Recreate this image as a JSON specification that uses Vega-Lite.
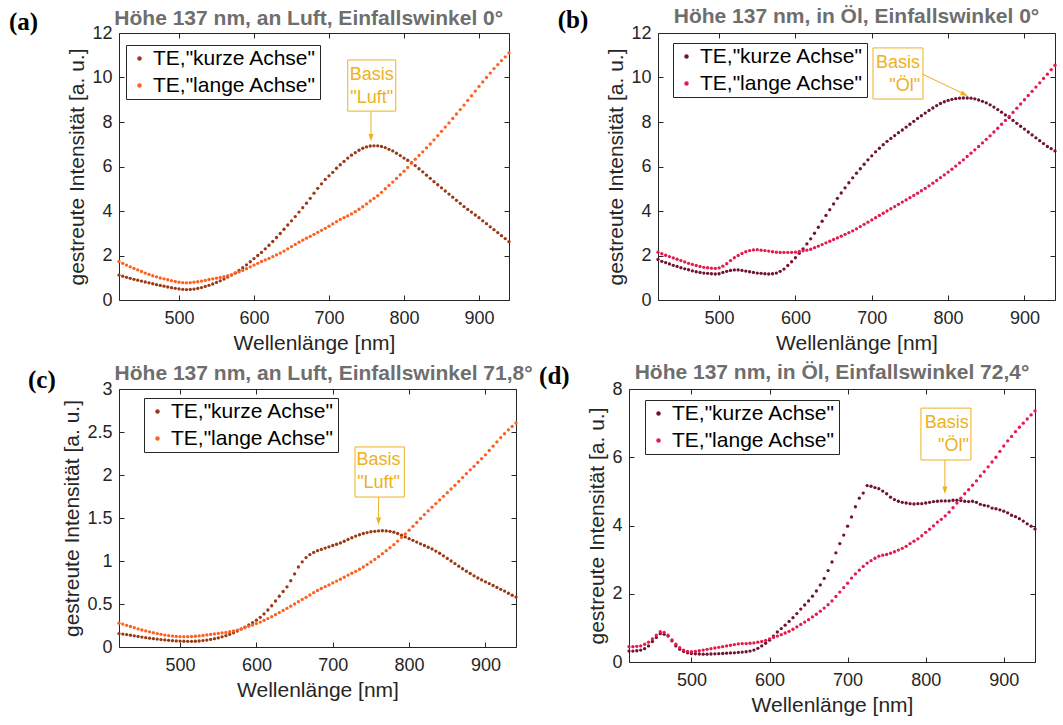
{
"$schema": "https://vega.github.io/schema/vega-lite/v6.json",
"background": "white",
"padding": {"left": 8, "top": 5, "right": 5, "bottom": 5},
"config": {
  "font": "Liberation Sans",
  "view": {"stroke": "#262626", "strokeWidth": 1},
  "axis": {"labelFontSize": 18, "labelColor": "#262626", "titleFontSize": 21, "titleFontWeight": "normal", "titleColor": "#262626", "tickColor": "#262626", "tickSize": -5, "domain": false, "grid": false},
  "axisBottom": {"labelPadding": 14, "titlePadding": 5},
  "axisLeft": {"labelPadding": 12, "titlePadding": 4},
  "legend": {"orient": "none", "strokeColor": "#262626", "fillColor": "white", "padding": 3, "labelFontSize": 21, "labelColor": "#000000", "symbolType": "circle", "symbolSize": 20, "symbolOffset": 0, "rowPadding": 5, "labelOffset": 3, "labelLimit": 400}
},
"datasets": {
"a": [
{"x":420,"k":1.12,"l":1.73},{"x":425,"k":1.07,"l":1.65},{"x":430,"k":1.02,"l":1.57},{"x":435,"k":0.975,"l":1.49},{"x":440,"k":0.93,"l":1.42},{"x":445,"k":0.89,"l":1.35},{"x":450,"k":0.85,"l":1.28},{"x":455,"k":0.81,"l":1.21},{"x":460,"k":0.77,"l":1.15},{"x":465,"k":0.73,"l":1.09},{"x":470,"k":0.69,"l":1.04},{"x":475,"k":0.655,"l":0.99},{"x":480,"k":0.62,"l":0.95},{"x":485,"k":0.585,"l":0.91},{"x":490,"k":0.55,"l":0.87},{"x":495,"k":0.525,"l":0.83},{"x":500,"k":0.5,"l":0.8},{"x":505,"k":0.48,"l":0.78},{"x":510,"k":0.47,"l":0.77},{"x":515,"k":0.475,"l":0.78},{"x":520,"k":0.49,"l":0.8},{"x":525,"k":0.52,"l":0.82},{"x":530,"k":0.56,"l":0.85},{"x":535,"k":0.61,"l":0.88},{"x":540,"k":0.66,"l":0.92},{"x":545,"k":0.72,"l":0.95},{"x":550,"k":0.79,"l":0.98},{"x":555,"k":0.86,"l":1.01},{"x":560,"k":0.94,"l":1.05},{"x":565,"k":1.03,"l":1.09},{"x":570,"k":1.12,"l":1.14},{"x":575,"k":1.22,"l":1.2},{"x":580,"k":1.33,"l":1.26},{"x":585,"k":1.45,"l":1.33},{"x":590,"k":1.58,"l":1.41},{"x":595,"k":1.72,"l":1.49},{"x":600,"k":1.86,"l":1.57},{"x":605,"k":2.0,"l":1.65},{"x":610,"k":2.14,"l":1.73},{"x":615,"k":2.3,"l":1.8},{"x":620,"k":2.46,"l":1.87},{"x":625,"k":2.63,"l":1.95},{"x":630,"k":2.81,"l":2.03},{"x":635,"k":2.99,"l":2.11},{"x":640,"k":3.18,"l":2.2},{"x":645,"k":3.37,"l":2.3},{"x":650,"k":3.56,"l":2.4},{"x":655,"k":3.75,"l":2.5},{"x":660,"k":3.95,"l":2.6},{"x":665,"k":4.15,"l":2.69},{"x":670,"k":4.35,"l":2.78},{"x":675,"k":4.57,"l":2.86},{"x":680,"k":4.8,"l":2.95},{"x":685,"k":5.02,"l":3.04},{"x":690,"k":5.22,"l":3.13},{"x":695,"k":5.42,"l":3.22},{"x":700,"k":5.58,"l":3.32},{"x":705,"k":5.74,"l":3.42},{"x":710,"k":5.92,"l":3.52},{"x":715,"k":6.08,"l":3.62},{"x":720,"k":6.23,"l":3.7},{"x":725,"k":6.38,"l":3.78},{"x":730,"k":6.51,"l":3.87},{"x":735,"k":6.62,"l":3.97},{"x":740,"k":6.73,"l":4.08},{"x":745,"k":6.82,"l":4.19},{"x":750,"k":6.88,"l":4.32},{"x":755,"k":6.92,"l":4.45},{"x":760,"k":6.93,"l":4.57},{"x":765,"k":6.93,"l":4.69},{"x":770,"k":6.9,"l":4.84},{"x":775,"k":6.85,"l":5.0},{"x":780,"k":6.77,"l":5.15},{"x":785,"k":6.7,"l":5.3},{"x":790,"k":6.6,"l":5.46},{"x":795,"k":6.49,"l":5.63},{"x":800,"k":6.38,"l":5.79},{"x":805,"k":6.28,"l":5.96},{"x":810,"k":6.17,"l":6.15},{"x":815,"k":6.04,"l":6.33},{"x":820,"k":5.9,"l":6.5},{"x":825,"k":5.76,"l":6.66},{"x":830,"k":5.61,"l":6.84},{"x":835,"k":5.47,"l":7.01},{"x":840,"k":5.32,"l":7.2},{"x":845,"k":5.18,"l":7.39},{"x":850,"k":5.04,"l":7.58},{"x":855,"k":4.9,"l":7.77},{"x":860,"k":4.76,"l":7.96},{"x":865,"k":4.62,"l":8.16},{"x":870,"k":4.48,"l":8.36},{"x":875,"k":4.34,"l":8.56},{"x":880,"k":4.2,"l":8.76},{"x":885,"k":4.07,"l":8.97},{"x":890,"k":3.95,"l":9.18},{"x":895,"k":3.82,"l":9.39},{"x":900,"k":3.7,"l":9.6},{"x":905,"k":3.56,"l":9.8},{"x":910,"k":3.43,"l":10.0},{"x":915,"k":3.29,"l":10.2},{"x":920,"k":3.16,"l":10.4},{"x":925,"k":3.03,"l":10.58},{"x":930,"k":2.89,"l":10.76},{"x":935,"k":2.76,"l":10.93},{"x":940,"k":2.62,"l":11.1}
],
"b": [
{"x":420,"k":1.82,"l":2.15},{"x":425,"k":1.74,"l":2.08},{"x":430,"k":1.68,"l":2.01},{"x":435,"k":1.62,"l":1.95},{"x":440,"k":1.56,"l":1.89},{"x":445,"k":1.51,"l":1.83},{"x":450,"k":1.45,"l":1.77},{"x":455,"k":1.4,"l":1.71},{"x":460,"k":1.36,"l":1.65},{"x":465,"k":1.31,"l":1.6},{"x":470,"k":1.27,"l":1.55},{"x":475,"k":1.24,"l":1.51},{"x":480,"k":1.21,"l":1.47},{"x":485,"k":1.2,"l":1.45},{"x":490,"k":1.18,"l":1.43},{"x":495,"k":1.17,"l":1.42},{"x":500,"k":1.18,"l":1.44},{"x":505,"k":1.24,"l":1.52},{"x":510,"k":1.29,"l":1.63},{"x":515,"k":1.33,"l":1.77},{"x":520,"k":1.35,"l":1.9},{"x":525,"k":1.35,"l":2.0},{"x":530,"k":1.33,"l":2.09},{"x":535,"k":1.3,"l":2.17},{"x":540,"k":1.27,"l":2.22},{"x":545,"k":1.24,"l":2.25},{"x":550,"k":1.21,"l":2.26},{"x":555,"k":1.2,"l":2.24},{"x":560,"k":1.18,"l":2.22},{"x":565,"k":1.17,"l":2.2},{"x":570,"k":1.18,"l":2.17},{"x":575,"k":1.21,"l":2.15},{"x":580,"k":1.29,"l":2.14},{"x":585,"k":1.39,"l":2.14},{"x":590,"k":1.55,"l":2.14},{"x":595,"k":1.72,"l":2.14},{"x":600,"k":1.9,"l":2.15},{"x":605,"k":2.1,"l":2.18},{"x":610,"k":2.3,"l":2.21},{"x":615,"k":2.52,"l":2.24},{"x":620,"k":2.75,"l":2.28},{"x":625,"k":3.0,"l":2.35},{"x":630,"k":3.27,"l":2.42},{"x":635,"k":3.54,"l":2.49},{"x":640,"k":3.8,"l":2.57},{"x":645,"k":4.06,"l":2.64},{"x":650,"k":4.32,"l":2.72},{"x":655,"k":4.57,"l":2.79},{"x":660,"k":4.81,"l":2.87},{"x":665,"k":5.04,"l":2.95},{"x":670,"k":5.27,"l":3.03},{"x":675,"k":5.49,"l":3.11},{"x":680,"k":5.7,"l":3.2},{"x":685,"k":5.9,"l":3.3},{"x":690,"k":6.1,"l":3.4},{"x":695,"k":6.3,"l":3.5},{"x":700,"k":6.48,"l":3.6},{"x":705,"k":6.66,"l":3.7},{"x":710,"k":6.82,"l":3.8},{"x":715,"k":6.98,"l":3.9},{"x":720,"k":7.13,"l":4.0},{"x":725,"k":7.26,"l":4.1},{"x":730,"k":7.39,"l":4.2},{"x":735,"k":7.52,"l":4.3},{"x":740,"k":7.64,"l":4.4},{"x":745,"k":7.77,"l":4.5},{"x":750,"k":7.9,"l":4.6},{"x":755,"k":8.03,"l":4.7},{"x":760,"k":8.16,"l":4.8},{"x":765,"k":8.28,"l":4.91},{"x":770,"k":8.4,"l":5.02},{"x":775,"k":8.52,"l":5.13},{"x":780,"k":8.63,"l":5.25},{"x":785,"k":8.74,"l":5.37},{"x":790,"k":8.83,"l":5.5},{"x":795,"k":8.91,"l":5.62},{"x":800,"k":8.97,"l":5.75},{"x":805,"k":9.02,"l":5.88},{"x":810,"k":9.05,"l":6.02},{"x":815,"k":9.07,"l":6.16},{"x":820,"k":9.08,"l":6.3},{"x":825,"k":9.08,"l":6.45},{"x":830,"k":9.07,"l":6.6},{"x":835,"k":9.04,"l":6.75},{"x":840,"k":8.99,"l":6.9},{"x":845,"k":8.93,"l":7.06},{"x":850,"k":8.86,"l":7.22},{"x":855,"k":8.77,"l":7.38},{"x":860,"k":8.67,"l":7.55},{"x":865,"k":8.56,"l":7.72},{"x":870,"k":8.44,"l":7.9},{"x":875,"k":8.32,"l":8.07},{"x":880,"k":8.2,"l":8.25},{"x":885,"k":8.07,"l":8.43},{"x":890,"k":7.94,"l":8.62},{"x":895,"k":7.81,"l":8.81},{"x":900,"k":7.68,"l":9.0},{"x":905,"k":7.55,"l":9.19},{"x":910,"k":7.42,"l":9.38},{"x":915,"k":7.29,"l":9.57},{"x":920,"k":7.16,"l":9.76},{"x":925,"k":7.03,"l":9.96},{"x":930,"k":6.9,"l":10.15},{"x":935,"k":6.8,"l":10.35},{"x":940,"k":6.7,"l":10.55}
],
"c": [
{"x":420,"k":0.156,"l":0.277},{"x":425,"k":0.15,"l":0.266},{"x":430,"k":0.144,"l":0.252},{"x":435,"k":0.137,"l":0.238},{"x":440,"k":0.13,"l":0.225},{"x":445,"k":0.122,"l":0.21},{"x":450,"k":0.115,"l":0.198},{"x":455,"k":0.109,"l":0.187},{"x":460,"k":0.103,"l":0.176},{"x":465,"k":0.097,"l":0.166},{"x":470,"k":0.092,"l":0.156},{"x":475,"k":0.086,"l":0.147},{"x":480,"k":0.082,"l":0.139},{"x":485,"k":0.078,"l":0.133},{"x":490,"k":0.074,"l":0.127},{"x":495,"k":0.071,"l":0.123},{"x":500,"k":0.069,"l":0.121},{"x":505,"k":0.067,"l":0.12},{"x":510,"k":0.066,"l":0.12},{"x":515,"k":0.066,"l":0.122},{"x":520,"k":0.067,"l":0.125},{"x":525,"k":0.07,"l":0.129},{"x":530,"k":0.075,"l":0.134},{"x":535,"k":0.081,"l":0.14},{"x":540,"k":0.088,"l":0.146},{"x":545,"k":0.097,"l":0.152},{"x":550,"k":0.106,"l":0.158},{"x":555,"k":0.118,"l":0.164},{"x":560,"k":0.132,"l":0.17},{"x":565,"k":0.148,"l":0.177},{"x":570,"k":0.166,"l":0.186},{"x":575,"k":0.186,"l":0.197},{"x":580,"k":0.208,"l":0.21},{"x":585,"k":0.232,"l":0.224},{"x":590,"k":0.257,"l":0.24},{"x":595,"k":0.284,"l":0.256},{"x":600,"k":0.312,"l":0.272},{"x":605,"k":0.345,"l":0.29},{"x":610,"k":0.385,"l":0.309},{"x":615,"k":0.43,"l":0.33},{"x":620,"k":0.48,"l":0.352},{"x":625,"k":0.535,"l":0.376},{"x":630,"k":0.59,"l":0.4},{"x":635,"k":0.645,"l":0.425},{"x":640,"k":0.7,"l":0.45},{"x":645,"k":0.77,"l":0.475},{"x":650,"k":0.85,"l":0.5},{"x":655,"k":0.93,"l":0.527},{"x":660,"k":0.99,"l":0.553},{"x":665,"k":1.04,"l":0.578},{"x":670,"k":1.075,"l":0.605},{"x":675,"k":1.1,"l":0.632},{"x":680,"k":1.12,"l":0.657},{"x":685,"k":1.135,"l":0.68},{"x":690,"k":1.15,"l":0.701},{"x":695,"k":1.165,"l":0.722},{"x":700,"k":1.18,"l":0.745},{"x":705,"k":1.195,"l":0.766},{"x":710,"k":1.21,"l":0.788},{"x":715,"k":1.23,"l":0.812},{"x":720,"k":1.25,"l":0.836},{"x":725,"k":1.27,"l":0.858},{"x":730,"k":1.29,"l":0.88},{"x":735,"k":1.305,"l":0.904},{"x":740,"k":1.32,"l":0.93},{"x":745,"k":1.33,"l":0.958},{"x":750,"k":1.34,"l":0.988},{"x":755,"k":1.345,"l":1.018},{"x":760,"k":1.35,"l":1.05},{"x":765,"k":1.352,"l":1.085},{"x":770,"k":1.35,"l":1.12},{"x":775,"k":1.345,"l":1.155},{"x":780,"k":1.335,"l":1.19},{"x":785,"k":1.32,"l":1.232},{"x":790,"k":1.3,"l":1.274},{"x":795,"k":1.28,"l":1.316},{"x":800,"k":1.26,"l":1.358},{"x":805,"k":1.24,"l":1.403},{"x":810,"k":1.22,"l":1.448},{"x":815,"k":1.2,"l":1.494},{"x":820,"k":1.18,"l":1.54},{"x":825,"k":1.16,"l":1.583},{"x":830,"k":1.14,"l":1.626},{"x":835,"k":1.115,"l":1.668},{"x":840,"k":1.09,"l":1.71},{"x":845,"k":1.06,"l":1.752},{"x":850,"k":1.03,"l":1.795},{"x":855,"k":1.0,"l":1.838},{"x":860,"k":0.97,"l":1.88},{"x":865,"k":0.94,"l":1.925},{"x":870,"k":0.91,"l":1.97},{"x":875,"k":0.882,"l":2.015},{"x":880,"k":0.855,"l":2.06},{"x":885,"k":0.828,"l":2.1},{"x":890,"k":0.802,"l":2.145},{"x":895,"k":0.78,"l":2.19},{"x":900,"k":0.758,"l":2.235},{"x":905,"k":0.737,"l":2.285},{"x":910,"k":0.715,"l":2.335},{"x":915,"k":0.693,"l":2.385},{"x":920,"k":0.671,"l":2.435},{"x":925,"k":0.65,"l":2.48},{"x":930,"k":0.625,"l":2.525},{"x":935,"k":0.602,"l":2.565},{"x":940,"k":0.58,"l":2.605}
],
"d": [
{"x":420,"k":0.32,"l":0.45},{"x":425,"k":0.32,"l":0.45},{"x":430,"k":0.33,"l":0.46},{"x":435,"k":0.35,"l":0.47},{"x":440,"k":0.39,"l":0.52},{"x":445,"k":0.47,"l":0.58},{"x":450,"k":0.6,"l":0.68},{"x":455,"k":0.72,"l":0.79},{"x":460,"k":0.83,"l":0.89},{"x":465,"k":0.81,"l":0.87},{"x":470,"k":0.76,"l":0.79},{"x":475,"k":0.62,"l":0.65},{"x":480,"k":0.47,"l":0.52},{"x":485,"k":0.37,"l":0.42},{"x":490,"k":0.31,"l":0.35},{"x":495,"k":0.27,"l":0.31},{"x":500,"k":0.25,"l":0.3},{"x":505,"k":0.24,"l":0.31},{"x":510,"k":0.235,"l":0.33},{"x":515,"k":0.23,"l":0.35},{"x":520,"k":0.23,"l":0.37},{"x":525,"k":0.235,"l":0.39},{"x":530,"k":0.24,"l":0.41},{"x":535,"k":0.245,"l":0.43},{"x":540,"k":0.25,"l":0.45},{"x":545,"k":0.26,"l":0.47},{"x":550,"k":0.265,"l":0.49},{"x":555,"k":0.27,"l":0.51},{"x":560,"k":0.28,"l":0.53},{"x":565,"k":0.29,"l":0.54},{"x":570,"k":0.3,"l":0.54},{"x":575,"k":0.32,"l":0.55},{"x":580,"k":0.35,"l":0.56},{"x":585,"k":0.4,"l":0.58},{"x":590,"k":0.47,"l":0.6},{"x":595,"k":0.55,"l":0.63},{"x":600,"k":0.64,"l":0.68},{"x":605,"k":0.76,"l":0.72},{"x":610,"k":0.88,"l":0.76},{"x":615,"k":0.98,"l":0.8},{"x":620,"k":1.08,"l":0.85},{"x":625,"k":1.19,"l":0.9},{"x":630,"k":1.3,"l":0.96},{"x":635,"k":1.42,"l":1.03},{"x":640,"k":1.55,"l":1.1},{"x":645,"k":1.67,"l":1.17},{"x":650,"k":1.79,"l":1.24},{"x":655,"k":1.93,"l":1.32},{"x":660,"k":2.08,"l":1.4},{"x":665,"k":2.26,"l":1.49},{"x":670,"k":2.45,"l":1.58},{"x":675,"k":2.68,"l":1.68},{"x":680,"k":2.93,"l":1.79},{"x":685,"k":3.2,"l":1.92},{"x":690,"k":3.47,"l":2.05},{"x":695,"k":3.72,"l":2.18},{"x":700,"k":3.98,"l":2.31},{"x":705,"k":4.25,"l":2.46},{"x":710,"k":4.55,"l":2.58},{"x":715,"k":4.8,"l":2.69},{"x":720,"k":4.95,"l":2.8},{"x":725,"k":5.17,"l":2.9},{"x":730,"k":5.15,"l":2.97},{"x":735,"k":5.11,"l":3.04},{"x":740,"k":5.08,"l":3.1},{"x":745,"k":5.01,"l":3.13},{"x":750,"k":4.93,"l":3.15},{"x":755,"k":4.83,"l":3.19},{"x":760,"k":4.76,"l":3.23},{"x":765,"k":4.71,"l":3.28},{"x":770,"k":4.68,"l":3.33},{"x":775,"k":4.66,"l":3.39},{"x":780,"k":4.64,"l":3.47},{"x":785,"k":4.63,"l":3.54},{"x":790,"k":4.64,"l":3.61},{"x":795,"k":4.64,"l":3.7},{"x":800,"k":4.66,"l":3.8},{"x":805,"k":4.68,"l":3.89},{"x":810,"k":4.7,"l":3.99},{"x":815,"k":4.71,"l":4.1},{"x":820,"k":4.72,"l":4.18},{"x":825,"k":4.72,"l":4.28},{"x":830,"k":4.72,"l":4.39},{"x":835,"k":4.74,"l":4.52},{"x":840,"k":4.74,"l":4.66},{"x":845,"k":4.73,"l":4.8},{"x":850,"k":4.71,"l":4.93},{"x":855,"k":4.7,"l":5.05},{"x":860,"k":4.71,"l":5.18},{"x":865,"k":4.68,"l":5.31},{"x":870,"k":4.62,"l":5.45},{"x":875,"k":4.59,"l":5.58},{"x":880,"k":4.57,"l":5.72},{"x":885,"k":4.51,"l":5.86},{"x":890,"k":4.49,"l":6.0},{"x":895,"k":4.46,"l":6.17},{"x":900,"k":4.42,"l":6.33},{"x":905,"k":4.37,"l":6.48},{"x":910,"k":4.3,"l":6.61},{"x":915,"k":4.26,"l":6.75},{"x":920,"k":4.2,"l":6.88},{"x":925,"k":4.13,"l":7.0},{"x":930,"k":4.05,"l":7.12},{"x":935,"k":3.98,"l":7.24},{"x":940,"k":3.9,"l":7.36}
]
},
"spacing": 7,
"resolve": {"scale": {"color": "independent"}, "legend": {"color": "independent"}},
"vconcat": [
{"hconcat": [
 {"width": 390, "height": 267,
  "resolve": {"axis": {"x": "independent", "y": "independent"}},
  "layer": [
   {"data": {"name": "a"}, "transform": [{"fold": ["k", "l"], "as": ["s", "v"]}],
    "mark": {"type": "circle", "size": 11, "opacity": 1},
    "encoding": {
     "x": {"field": "x", "type": "quantitative", "scale": {"domain": [420, 940], "nice": false}, "axis": {"values": [500, 600, 700, 800, 900], "title": "Wellenlänge [nm]"}},
     "y": {"field": "v", "type": "quantitative", "scale": {"domain": [0, 12], "nice": false}, "axis": {"values": [0, 2, 4, 6, 8, 10, 12], "format": "~g", "title": "gestreute Intensität [a. u.]"}},
     "color": {"field": "s", "type": "nominal", "scale": {"domain": ["k", "l"], "range": ["#9a3a14", "#ff5f1f"]}, "legend": {"title": null, "legendX": 7, "legendY": 12, "labelExpr": "datum.label == 'k' ? 'TE,\"kurze Achse\"' : 'TE,\"lange Achse\"'"}}
    }},
   {"data": {"values": [{}]}, "mark": {"type": "rect", "filled": false, "color": "#EDB120", "strokeWidth": 1},
    "encoding": {
     "x": {"datum": 725, "type": "quantitative", "axis": {"orient": "top", "values": [500, 600, 700, 800, 900], "labels": false, "title": null}},
     "x2": {"datum": 789},
     "y": {"datum": 10.79, "type": "quantitative", "axis": {"orient": "right", "values": [0, 2, 4, 6, 8, 10, 12], "labels": false, "title": null}},
     "y2": {"datum": 8.49}}},
   {"data": {"values": [{}]}, "mark": {"type": "text", "text": ["Basis", "\"Luft\""], "color": "#EDB120", "fontSize": 18, "lineHeight": 23, "align": "center", "baseline": "middle"},
    "encoding": {"x": {"datum": 757, "type": "quantitative", "axis": null}, "y": {"datum": 10.11, "type": "quantitative", "axis": null}}},
   {"data": {"values": [{}]}, "mark": {"type": "rule", "color": "#EDB120", "strokeWidth": 1},
    "encoding": {"x": {"datum": 756, "type": "quantitative", "axis": null}, "y": {"datum": 8.49, "type": "quantitative", "axis": null}, "y2": {"datum": 7.3}}},
   {"data": {"values": [{}]}, "mark": {"type": "point", "shape": "M-1,-3L1,-3L0,0Z", "filled": true, "opacity": 1, "color": "#EDB120", "size": 25},
    "encoding": {"x": {"datum": 756, "type": "quantitative", "axis": null}, "y": {"datum": 7.12, "type": "quantitative", "axis": null}}},
   {"data": {"values": [{}]}, "mark": {"type": "text", "text": "Höhe 137 nm, an Luft, Einfallswinkel 0°", "fontWeight": "bold", "fontSize": 21, "color": "#6e6e6e", "align": "center", "baseline": "alphabetic"},
    "encoding": {"x": {"datum": 673, "type": "quantitative", "axis": null}, "y": {"datum": 12.36, "type": "quantitative", "axis": null}}},
   {"data": {"values": [{}]}, "mark": {"type": "text", "text": "(a)", "font": "Liberation Serif", "fontWeight": "bold", "fontSize": 25, "align": "left", "baseline": "middle", "color": "#000000"},
    "encoding": {"x": {"datum": 273.3, "type": "quantitative", "axis": null}, "y": {"datum": 12.51, "type": "quantitative", "axis": null}}}
  ]},
 {"width": 397, "height": 267,
  "resolve": {"axis": {"x": "independent", "y": "independent"}},
  "layer": [
   {"data": {"name": "b"}, "transform": [{"fold": ["k", "l"], "as": ["s", "v"]}],
    "mark": {"type": "circle", "size": 11, "opacity": 1},
    "encoding": {
     "x": {"field": "x", "type": "quantitative", "scale": {"domain": [420, 940], "nice": false}, "axis": {"values": [500, 600, 700, 800, 900], "title": "Wellenlänge [nm]"}},
     "y": {"field": "v", "type": "quantitative", "scale": {"domain": [0, 12], "nice": false}, "axis": {"values": [0, 2, 4, 6, 8, 10, 12], "format": "~g", "title": "gestreute Intensität [a. u.]"}},
     "color": {"field": "s", "type": "nominal", "scale": {"domain": ["k", "l"], "range": ["#701234", "#e6194b"]}, "legend": {"title": null, "legendX": 15, "legendY": 10, "labelExpr": "datum.label == 'k' ? 'TE,\"kurze Achse\"' : 'TE,\"lange Achse\"'"}}
    }},
   {"data": {"values": [{}]}, "mark": {"type": "rect", "filled": false, "color": "#EDB120", "strokeWidth": 1},
    "encoding": {
     "x": {"datum": 701.6, "type": "quantitative", "axis": {"orient": "top", "values": [500, 600, 700, 800, 900], "labels": false, "title": null}},
     "x2": {"datum": 767.1},
     "y": {"datum": 11.33, "type": "quantitative", "axis": {"orient": "right", "values": [0, 2, 4, 6, 8, 10, 12], "labels": false, "title": null}},
     "y2": {"datum": 9.03}}},
   {"data": {"values": [{}]}, "mark": {"type": "text", "text": ["Basis", "\"Öl\""], "color": "#EDB120", "fontSize": 18, "lineHeight": 23, "align": "right", "baseline": "middle"},
    "encoding": {"x": {"datum": 763.2, "type": "quantitative", "axis": null}, "y": {"datum": 10.66, "type": "quantitative", "axis": null}}},
   {"data": {"values": [{}]}, "mark": {"type": "rule", "color": "#EDB120", "strokeWidth": 1},
    "encoding": {"x": {"datum": 765.8, "type": "quantitative", "axis": null}, "x2": {"datum": 822}, "y": {"datum": 10.16, "type": "quantitative", "axis": null}, "y2": {"datum": 9.24}}},
   {"data": {"values": [{}]}, "mark": {"type": "point", "shape": "M-1,-3L1,-3L0,0Z", "filled": true, "opacity": 1, "color": "#EDB120", "size": 25, "angle": -64.4},
    "encoding": {"x": {"datum": 826, "type": "quantitative", "axis": null}, "y": {"datum": 9.17, "type": "quantitative", "axis": null}}},
   {"data": {"values": [{}]}, "mark": {"type": "text", "text": "Höhe 137 nm, in Öl, Einfallswinkel 0°", "fontWeight": "bold", "fontSize": 21, "color": "#6e6e6e", "align": "center", "baseline": "alphabetic"},
    "encoding": {"x": {"datum": 680, "type": "quantitative", "axis": null}, "y": {"datum": 12.46, "type": "quantitative", "axis": null}}},
   {"data": {"values": [{}]}, "mark": {"type": "text", "text": "(b)", "font": "Liberation Serif", "fontWeight": "bold", "fontSize": 25, "align": "left", "baseline": "middle", "color": "#000000"},
    "encoding": {"x": {"datum": 288.6, "type": "quantitative", "axis": null}, "y": {"datum": 12.58, "type": "quantitative", "axis": null}}}
  ]}
], "spacing": 45, "resolve": {"scale": {"color": "independent"}, "legend": {"color": "independent"}}},
{"hconcat": [
 {"width": 397, "height": 258,
  "resolve": {"axis": {"x": "independent", "y": "independent"}},
  "layer": [
   {"data": {"name": "c"}, "transform": [{"fold": ["k", "l"], "as": ["s", "v"]}],
    "mark": {"type": "circle", "size": 11, "opacity": 1},
    "encoding": {
     "x": {"field": "x", "type": "quantitative", "scale": {"domain": [420, 940], "nice": false}, "axis": {"values": [500, 600, 700, 800, 900], "title": "Wellenlänge [nm]"}},
     "y": {"field": "v", "type": "quantitative", "scale": {"domain": [0, 3], "nice": false}, "axis": {"values": [0, 0.5, 1, 1.5, 2, 2.5, 3], "format": "~g", "title": "gestreute Intensität [a. u.]"}},
     "color": {"field": "s", "type": "nominal", "scale": {"domain": ["k", "l"], "range": ["#9a3a14", "#ff5f1f"]}, "legend": {"title": null, "legendX": 25, "legendY": 9, "labelExpr": "datum.label == 'k' ? 'TE,\"kurze Achse\"' : 'TE,\"lange Achse\"'"}}
    }},
   {"data": {"values": [{}]}, "mark": {"type": "rect", "filled": false, "color": "#EDB120", "strokeWidth": 1},
    "encoding": {
     "x": {"datum": 729.1, "type": "quantitative", "axis": {"orient": "top", "values": [500, 600, 700, 800, 900], "labels": false, "title": null}},
     "x2": {"datum": 793.7},
     "y": {"datum": 2.326, "type": "quantitative", "axis": {"orient": "right", "values": [0, 0.5, 1, 1.5, 2, 2.5, 3], "labels": false, "title": null}},
     "y2": {"datum": 1.744}}},
   {"data": {"values": [{}]}, "mark": {"type": "text", "text": ["Basis", "\"Luft\""], "color": "#EDB120", "fontSize": 18, "lineHeight": 23, "align": "center", "baseline": "middle"},
    "encoding": {"x": {"datum": 760, "type": "quantitative", "axis": null}, "y": {"datum": 2.174, "type": "quantitative", "axis": null}}},
   {"data": {"values": [{}]}, "mark": {"type": "rule", "color": "#EDB120", "strokeWidth": 1},
    "encoding": {"x": {"datum": 760, "type": "quantitative", "axis": null}, "y": {"datum": 1.744, "type": "quantitative", "axis": null}, "y2": {"datum": 1.48}}},
   {"data": {"values": [{}]}, "mark": {"type": "point", "shape": "M-1,-3L1,-3L0,0Z", "filled": true, "opacity": 1, "color": "#EDB120", "size": 25},
    "encoding": {"x": {"datum": 760, "type": "quantitative", "axis": null}, "y": {"datum": 1.42, "type": "quantitative", "axis": null}}},
   {"data": {"values": [{}]}, "mark": {"type": "text", "text": "Höhe 137 nm, an Luft, Einfallswinkel 71,8°", "fontWeight": "bold", "fontSize": 21, "color": "#6e6e6e", "align": "center", "baseline": "alphabetic"},
    "encoding": {"x": {"datum": 688, "type": "quantitative", "axis": null}, "y": {"datum": 3.105, "type": "quantitative", "axis": null}}},
   {"data": {"values": [{}]}, "mark": {"type": "text", "text": "(c)", "font": "Liberation Serif", "fontWeight": "bold", "fontSize": 25, "align": "left", "baseline": "middle", "color": "#000000"},
    "encoding": {"x": {"datum": 300.8, "type": "quantitative", "axis": null}, "y": {"datum": 3.1, "type": "quantitative", "axis": null}}}
  ]},
 {"width": 406, "height": 273,
  "resolve": {"axis": {"x": "independent", "y": "independent"}},
  "layer": [
   {"data": {"name": "d"}, "transform": [{"fold": ["k", "l"], "as": ["s", "v"]}],
    "mark": {"type": "circle", "size": 11, "opacity": 1},
    "encoding": {
     "x": {"field": "x", "type": "quantitative", "scale": {"domain": [420, 940], "nice": false}, "axis": {"values": [500, 600, 700, 800, 900], "title": "Wellenlänge [nm]"}},
     "y": {"field": "v", "type": "quantitative", "scale": {"domain": [0, 8], "nice": false}, "axis": {"values": [0, 2, 4, 6, 8], "format": "~g", "title": "gestreute Intensität [a. u.]"}},
     "color": {"field": "s", "type": "nominal", "scale": {"domain": ["k", "l"], "range": ["#701234", "#e6194b"]}, "legend": {"title": null, "legendX": 16, "legendY": 11, "labelExpr": "datum.label == 'k' ? 'TE,\"kurze Achse\"' : 'TE,\"lange Achse\"'"}}
    }},
   {"data": {"values": [{}]}, "mark": {"type": "rect", "filled": false, "color": "#EDB120", "strokeWidth": 1},
    "encoding": {
     "x": {"datum": 793.9, "type": "quantitative", "axis": {"orient": "top", "values": [500, 600, 700, 800, 900], "labels": false, "title": null}},
     "x2": {"datum": 857.9},
     "y": {"datum": 7.44, "type": "quantitative", "axis": {"orient": "right", "values": [0, 2, 4, 6, 8], "labels": false, "title": null}},
     "y2": {"datum": 5.92}}},
   {"data": {"values": [{}]}, "mark": {"type": "text", "text": ["Basis", "\"Öl\""], "color": "#EDB120", "fontSize": 18, "lineHeight": 23, "align": "right", "baseline": "middle"},
    "encoding": {"x": {"datum": 855.3, "type": "quantitative", "axis": null}, "y": {"datum": 7.01, "type": "quantitative", "axis": null}}},
   {"data": {"values": [{}]}, "mark": {"type": "rule", "color": "#EDB120", "strokeWidth": 1},
    "encoding": {"x": {"datum": 824.6, "type": "quantitative", "axis": null}, "y": {"datum": 5.92, "type": "quantitative", "axis": null}, "y2": {"datum": 5.1}}},
   {"data": {"values": [{}]}, "mark": {"type": "point", "shape": "M-1,-3L1,-3L0,0Z", "filled": true, "opacity": 1, "color": "#EDB120", "size": 25},
    "encoding": {"x": {"datum": 824.6, "type": "quantitative", "axis": null}, "y": {"datum": 4.92, "type": "quantitative", "axis": null}}},
   {"data": {"values": [{}]}, "mark": {"type": "text", "text": "Höhe 137 nm, in Öl, Einfallswinkel 72,4°", "fontWeight": "bold", "fontSize": 21, "color": "#6e6e6e", "align": "center", "baseline": "alphabetic"},
    "encoding": {"x": {"datum": 680, "type": "quantitative", "axis": null}, "y": {"datum": 8.28, "type": "quantitative", "axis": null}}},
   {"data": {"values": [{}]}, "mark": {"type": "text", "text": "(d)", "font": "Liberation Serif", "fontWeight": "bold", "fontSize": 25, "align": "left", "baseline": "middle", "color": "#000000"},
    "encoding": {"x": {"datum": 304.8, "type": "quantitative", "axis": null}, "y": {"datum": 8.37, "type": "quantitative", "axis": null}}}
  ]}
], "spacing": 4, "resolve": {"scale": {"color": "independent"}, "legend": {"color": "independent"}}}
]
}
